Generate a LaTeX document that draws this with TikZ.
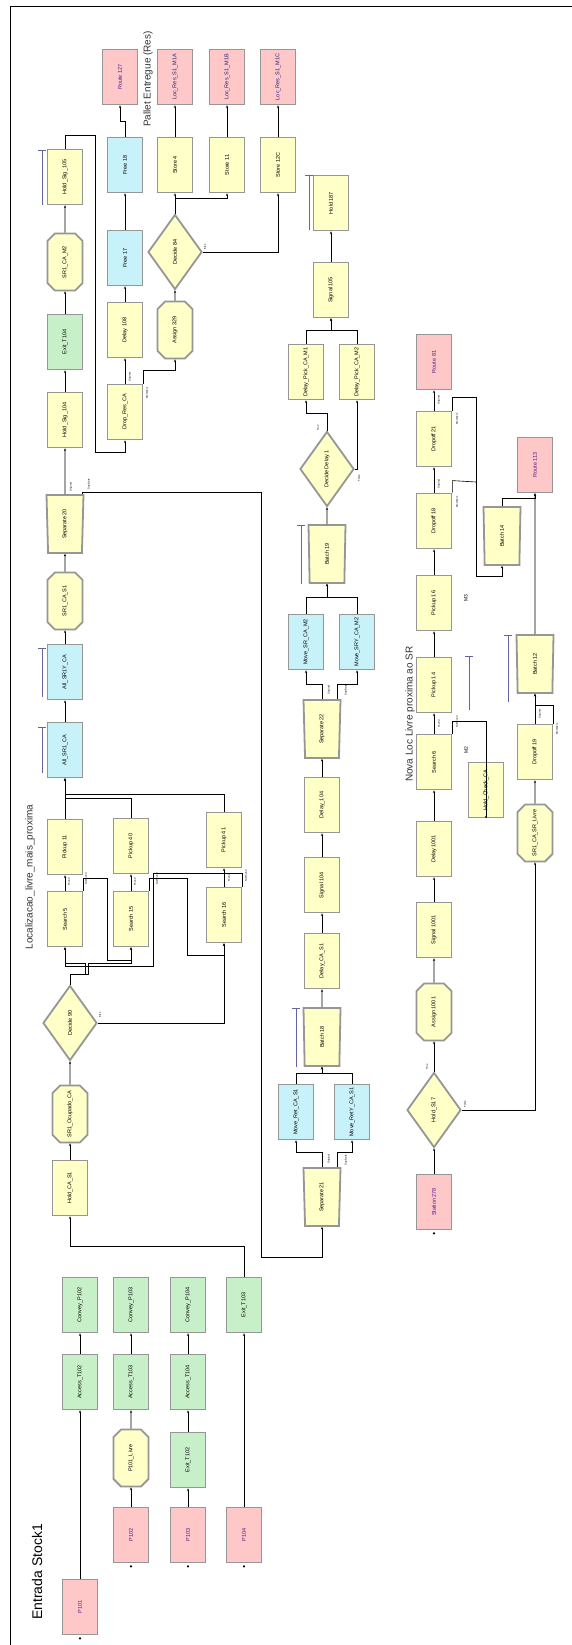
\documentclass[tikz,border=0pt]{standalone}
\usepackage{fontspec}
\setmainfont{Liberation Sans}
\usepackage{graphicx}
\usetikzlibrary{shapes.geometric,shapes.misc,arrows.meta}
\definecolor{arenayel}{RGB}{255,255,200}
\definecolor{arenapink}{RGB}{255,200,200}
\definecolor{arenacyan}{RGB}{200,242,250}
\definecolor{arenagreen}{RGB}{200,240,200}
\definecolor{arenaedge}{RGB}{150,150,150}
\definecolor{arenaplum}{RGB}{90,20,130}
\definecolor{arenanavy}{RGB}{30,30,120}
\definecolor{arenaq}{RGB}{100,100,160}
\newcommand{\lbl}[1]{\rotatebox{90}{#1}}
\tikzset{
  mod/.style={draw=arenaedge, line width=1.8pt, minimum width=35pt, minimum height=55pt, inner sep=0pt, font=\fontsize{5.5}{6.5}\selectfont},
  ybox/.style={mod, fill=arenayel},
  pbox/.style={mod, fill=arenapink, text=arenaplum},
  cbox/.style={mod, fill=arenacyan},
  gbox/.style={mod, fill=arenagreen},
  octbox/.style={ybox, chamfered rectangle, chamfered rectangle xsep=5pt, minimum height=57pt},
  trapbox/.style={ybox, trapezium, shape border rotate=180, trapezium angle=87, trapezium stretches body=true, minimum width=37pt, minimum height=58pt},
  decbox/.style={ybox, diamond, minimum width=54pt, minimum height=75pt},
  qbar/.style={draw=arenaq, line width=0.8pt},
  tiny/.style={font=\fontsize{2.6}{3}\selectfont, inner sep=0pt},
  title/.style={font=\fontsize{10}{12}\selectfont, text=black!80, rotate=90, inner sep=0pt}
}
\begin{document}
\begin{tikzpicture}[x=1pt, y=-1pt, >={Stealth[length=2.5pt,width=2.2pt]}, flow/.style={->, line width=0.6pt}]
\fill[white] (0,0) rectangle (572,1645);
\useasboundingbox (0,0) rectangle (572,1645);
\draw[line width=0.8pt] (10,1645) -- (10,6) -- (572,6);

% Pallet Entregue
\node[title] (tpallet) at (148,79) {Pallet Entregue (Res)};
\node[pbox] (route127) at (120,77) {\lbl{Route 127}};
\node[pbox, text=arenanavy] (locm1a) at (175,77) {\lbl{Loc\_Res\_S1\_M1A}};
\node[pbox, text=arenanavy] (locm1b) at (227,77) {\lbl{Loc\_Res\_S1\_M1B}};
\node[pbox, text=arenanavy] (locm1c) at (278,77) {\lbl{Loc\_Res\_S1\_M1C}};
\node[cbox] (free18) at (125,165) {\lbl{Free 18}};
\node[ybox] (store4) at (175,165) {\lbl{Store 4}};
\node[ybox] (store11) at (227,165) {\lbl{Store 11}};
\node[ybox] (store12) at (278,165) {\lbl{Store 12C}};
\node[cbox] (free17) at (125,258) {\lbl{Free 17}};
\node[decbox] (dec84) at (175,252) {\lbl{Decide 84}};
\node[ybox] (delay108) at (125,330) {\lbl{Delay 108}};
\node[octbox] (asg329) at (175,330) {\lbl{Assign 329}};
\node[ybox] (dropres) at (125,412) {\lbl{Drop\_Res\_CA}};

% left column
\node[ybox] (hs105) at (65,177) {\lbl{Hold\_Sig\_105}};
\node[octbox] (sr1m2) at (65,262) {\lbl{SR1\_CA\_M2}};
\node[gbox] (exitt104) at (65,342) {\lbl{Exit\_T104}};
\node[ybox] (hs104) at (65,420) {\lbl{Hold\_Sig\_104}};
\node[trapbox] (sep20) at (65,524) {\lbl{Separate 20}};
\node[octbox] (sr1s1) at (65,601) {\lbl{SR1\_CA\_S1}};
\node[cbox] (allsr1y) at (65,672) {\lbl{All\_SR1Y\_CA}};
\node[cbox] (allsr1) at (65,750) {\lbl{All\_SR1\_CA}};

% Localizacao
\node[title] (tloc) at (30,877) {Localizacao\_livre\_mais\_proxima};
\node[ybox] (pick11) at (65,847) {\lbl{Pickup 11}};
\node[ybox] (pick40) at (131,846) {\lbl{Pickup 40}};
\node[ybox] (pick41) at (224,840) {\lbl{Pickup 41}};
\node[ybox] (srch5) at (65,919) {\lbl{Search 5}};
\node[ybox] (srch15) at (131,919) {\lbl{Search 15}};
\node[ybox] (srch16) at (224,915) {\lbl{Search 16}};
\node[decbox] (dec90) at (70,1023) {\lbl{Decide 90}};
\node[octbox] (sr1ocup) at (70,1114) {\lbl{SR1\_Ocupado\_CA}};
\node[ybox] (holdcas1) at (70,1188) {\lbl{Hold\_CA\_S1}};

% Entrada Stock1
\node[font=\fontsize{14}{16}\selectfont, rotate=90, inner sep=0pt] (tentrada) at (37,1572) {Entrada Stock1};
\node[gbox] (convp102) at (80,1305) {\lbl{Convey\_P102}};
\node[gbox] (convp103) at (131,1305) {\lbl{Convey\_P103}};
\node[gbox] (convp104) at (188,1305) {\lbl{Convey\_P104}};
\node[gbox] (exitt103) at (244,1305) {\lbl{Exit\_T103}};
\node[gbox] (acct102) at (80,1382) {\lbl{Access\_T102}};
\node[gbox] (acct103) at (131,1382) {\lbl{Access\_T103}};
\node[gbox] (acct104) at (188,1382) {\lbl{Access\_T104}};
\node[octbox] (p101livre) at (131,1458) {\lbl{P101\_Livre}};
\node[gbox] (exitt102) at (188,1460) {\lbl{Exit\_T102}};
\node[pbox] (p102) at (131,1535) {\lbl{P102}};
\node[pbox] (p103) at (188,1535) {\lbl{P103}};
\node[pbox] (p104) at (244,1535) {\lbl{P104}};
\node[pbox] (p101) at (80,1607) {\lbl{P101}};

% middle column
\node[ybox] (hold187) at (331,203) {\lbl{Hold 187}};
\node[ybox] (sig105) at (331,290) {\lbl{Signal 105}};
\node[ybox] (dpm1) at (306,372) {\lbl{Delay\_Pick\_CA\_M1}};
\node[ybox] (dpm2) at (357,372) {\lbl{Delay\_Pick\_CA\_M2}};
\node[decbox] (dd1) at (327,469) {\lbl{Decide Delay 1}};
\node[trapbox] (batch19) at (327,554) {\lbl{Batch 19}};
\node[cbox] (movesr) at (306,642) {\lbl{Move\_SR\_CA\_M2}};
\node[cbox] (movesry) at (357,642) {\lbl{Move\_SRY\_CA\_M2}};
\node[trapbox] (sep22) at (322,729) {\lbl{Separate 22}};
\node[ybox] (delay104) at (322,805) {\lbl{Delay\_104}};
\node[ybox] (sig104) at (322,885) {\lbl{Signal 104}};
\node[ybox] (delaycas1) at (322,961) {\lbl{Delay\_CA\_S1}};
\node[trapbox] (batch18) at (322,1037) {\lbl{Batch 18}};
\node[cbox] (moveret) at (296,1112) {\lbl{Move\_Ret\_CA\_S1}};
\node[cbox] (moverety) at (352,1112) {\lbl{Move\_RetY\_CA\_S1}};
\node[trapbox] (sep21) at (322,1197) {\lbl{Separate 21}};

% Nova Loc
\node[title] (tnova) at (410,714) {Nova Loc Livre proxima ao SR};
\node[pbox] (route81) at (434,362) {\lbl{Route 81}};
\node[ybox] (drop21) at (434,439) {\lbl{Dropoff 21}};
\node[ybox] (drop18) at (434,521) {\lbl{Dropoff 18}};
\node[ybox] (pick16) at (434,603) {\lbl{Pickup 16}};
\node[ybox] (pick14) at (434,685) {\lbl{Pickup 14}};
\node[ybox] (srch6) at (434,762) {\lbl{Search 6}};
\node[ybox] (del1001) at (434,849) {\lbl{Delay 1001}};
\node[ybox] (sig1001) at (434,930) {\lbl{Signal 1001}};
\node[octbox] (asg1001) at (434,1012) {\lbl{Assign 1001}};
\node[decbox] (hs17) at (434,1110) {\lbl{Hold\_S17}};
\node[pbox] (st278) at (434,1202) {\lbl{Station 278}};
\node[pbox] (route113) at (535,465) {\lbl{Route 113}};
\node[trapbox] (batch14) at (502,536) {\lbl{Batch 14}};
\node[trapbox] (batch12) at (535,664) {\lbl{Batch 12}};
\node[ybox] (drop19) at (535,752) {\lbl{Dropoff 19}};
\node[octbox] (sr1sr) at (535,833) {\lbl{SR1\_CA\_SR\_Livre}};
\node[ybox] (hcc) at (486,790) {\lbl{Hold\_Check\_CA}};
\node[tiny, font=\fontsize{5}{6}\selectfont] (lm3) at (466,598) {\lbl{M3}};
\node[tiny, font=\fontsize{5}{6}\selectfont] (lm2) at (466,750) {\lbl{M2}};

% queue bars
\draw[qbar] (42,205) -- (42,150) ++(-4,0) -- ++(8,0);
\draw[qbar] (42,697) -- (42,648) ++(-4,0) -- ++(8,0);
\draw[qbar] (42,773) -- (42,727) ++(-4,0) -- ++(8,0);
\draw[qbar] (309,230) -- (309,175) ++(-4,0) -- ++(8,0);
\draw[qbar] (301,584) -- (301,525) ++(-4,0) -- ++(8,0);
\draw[qbar] (296,1067) -- (296,1008) ++(-4,0) -- ++(8,0);
\draw[qbar] (469,710) -- (469,656) ++(-4,0) -- ++(8,0);
\draw[qbar] (508,702) -- (508,635) ++(-4,0) -- ++(8,0);

% connectors, top block
\draw[flow] (hs105.north) -- ++(0,-13) -| (95,452) -| (dropres.south);
\draw[flow] (dropres) -- (delay108);
\draw[flow] (delay108) -- (free17);
\draw[flow] (free17) -- (free18);
\draw[flow] (free18.north) -- ++(0,-15) -| (route127.south);
\draw[flow] (dropres.north east) -- ++(0,-13) -| (asg329.south);
\draw[flow] (asg329) -- (dec84);
\draw[flow] (dec84.north) -- (store4.south);
\draw[flow] (dec84.north) -- ++(0,-15) -| (store11.south);
\draw[flow] (dec84.east) -| (store12.south);
\draw[flow] (store4) -- (locm1a);
\draw[flow] (store11) -- (locm1b);
\draw[flow] (store12) -- (locm1c);

% left column
\draw[flow] (sep20.north) -- (hs104.south);
\draw[flow] (hs104) -- (exitt104);
\draw[flow] (exitt104) -- (sr1m2);
\draw[flow] (sr1m2) -- (hs105);
\draw[flow] (sr1s1) -- (sep20);
\draw[flow] (allsr1y) -- (sr1s1);
\draw[flow] (allsr1) -- (allsr1y);
\draw[flow] (pick11) -- (allsr1);
\draw[flow] (pick40.north) -- ++(0,-19) -| (allsr1.south);
\draw[flow] (pick41.north) -- ++(0,-17) -| (allsr1.south);
\draw[flow] (srch5) -- (pick11);
\draw[flow] (srch15) -- (pick40);
\draw[flow] (srch16) -- (pick41);
\draw[flow] (srch5.north east) -- ++(0,-12) -| (107,960) -| (srch15.south);
\draw[flow] (srch15.north east) -- ++(0,-12) -| (187,955) -| (srch16.south);
\draw[flow] (srch16.north east) -- ++(0,-13) -| (153,966) -| (srch5.south);
\draw[flow] (dec90.north) -- ++(0,-10) -| (85,963) -| (srch5.south);
\draw[flow] (dec90.north) -- ++(0,-10) -| (88,963) -| (srch15.south);
\draw[flow] (dec90.east) -| (srch16.south);
\draw[flow] (sr1ocup) -- (dec90);
\draw[flow] (holdcas1) -- (sr1ocup);
\draw[flow] (exitt103.north) -- ++(0,-30) -| (holdcas1.south);
\draw[flow] (sep20.north) ++(17,0) -- ++(0,-2) -| (261,1257) -| (sep21.south);

% Entrada Stock1
\draw[flow] (p101) -- (acct102);
\draw[flow] (acct102) -- (convp102);
\draw[flow] (p102) -- (p101livre);
\draw[flow] (p101livre) -- (acct103);
\draw[flow] (acct103) -- (convp103);
\draw[flow] (p103) -- (exitt102);
\draw[flow] (exitt102) -- (acct104);
\draw[flow] (acct104) -- (convp104);
\draw[flow] (p104) -- (exitt103);
\fill (p101.south) ++(0,3) circle (1.2);
\fill (p102.south) ++(0,3) circle (1.2);
\fill (p103.south) ++(0,3) circle (1.2);
\fill (p104.south) ++(0,3) circle (1.2);
\fill (st278.south) ++(0,3) circle (1.2);

% middle column
\draw[flow] (sep21.north) -- ++(0,-15) -| (moveret.south);
\draw[flow] (sep21.north) ++(15,0) -- ++(0,-15) -| (moverety.south);
\draw[flow] (moveret.north) -- ++(0,-10) -| (batch18.south);
\draw[flow] (moverety.north) -- ++(0,-10) -| (batch18.south);
\draw[flow] (batch18) -- (delaycas1);
\draw[flow] (delaycas1) -- (sig104);
\draw[flow] (sig104) -- (delay104);
\draw[flow] (delay104) -- (sep22);
\draw[flow] (sep22.north) -- ++(0,-15) -| (movesr.south);
\draw[flow] (sep22.north) ++(15,0) -- ++(0,-15) -| (movesry.south);
\draw[flow] (movesr.north) -- ++(0,-16) -| (batch19.south);
\draw[flow] (movesry.north) -- ++(0,-16) -| (batch19.south);
\draw[flow] (batch19) -- (dd1);
\draw[flow] (dd1.north) -- ++(0,-17) -| (dpm1.south);
\draw[flow] (dd1.east) -| (dpm2.south);
\draw[flow] (dpm1.north) -- ++(0,-13) -| (sig105.south);
\draw[flow] (dpm2.north) -- ++(0,-13) -| (sig105.south);
\draw[flow] (sig105) -- (hold187);

% right column
\draw[flow] (st278) -- (hs17);
\draw[flow] (hs17) -- (asg1001);
\draw[flow] (asg1001) -- (sig1001);
\draw[flow] (sig1001) -- (del1001);
\draw[flow] (del1001) -- (srch6);
\draw[flow] (srch6) -- (pick14);
\draw[flow] (pick14) -- (pick16);
\draw[flow] (pick16) -- (drop18);
\draw[flow] (drop18) -- (drop21);
\draw[flow] (drop21) -- (route81);
\draw[flow] (drop21.north east) -- ++(0,-13) -| (476,576) -| (batch14.south);
\coordinate (mjoin) at (476,482);
\draw[line width=0.6pt] (drop18.north east) -- ++(0,-12) -- (mjoin);
\draw[flow] (batch14.north) -- ++(0,-8) -| (route113.south);
\draw[flow] (batch12) -- (route113);
\draw[flow] (drop19) -- (batch12);
\draw[flow] (drop19.north east) -- ++(0,-18) -| (batch12.south);
\draw[flow] (sr1sr) -- (drop19);
\draw[flow] (hs17.east) -| (sr1sr.south);
\draw[flow] (srch6.north east) -- ++(0,-12) -| (hcc.south);

% small exit labels
\node[tiny] (l1) at (130,377) {\lbl{Original}};
\node[tiny] (l2) at (147,393) {\lbl{Members}};
\node[tiny] (l3) at (71,487) {\lbl{Original}};
\node[tiny] (l4) at (89,484) {\lbl{Duplicate}};
\node[tiny] (l5) at (69,882) {\lbl{Found}};
\node[tiny] (l6) at (86,879) {\lbl{NotFound}};
\node[tiny] (l7) at (135,882) {\lbl{Found}};
\node[tiny] (l8) at (157,879) {\lbl{NotFound}};
\node[tiny] (l9) at (229,878) {\lbl{Found}};
\node[tiny] (l10) at (246,876) {\lbl{NotFound}};
\node[tiny] (l11) at (100,1015) {\lbl{Else}};
\node[tiny] (l12) at (205,247) {\lbl{Else}};
\node[tiny] (l13) at (318,428) {\lbl{True}};
\node[tiny] (l14) at (359,478) {\lbl{False}};
\node[tiny] (l15) at (329,690) {\lbl{Original}};
\node[tiny] (l16) at (346,690) {\lbl{Duplicate}};
\node[tiny] (l17) at (329,1159) {\lbl{Original}};
\node[tiny] (l18) at (346,1160) {\lbl{Duplicate}};
\node[tiny] (l19) at (439,400) {\lbl{Original}};
\node[tiny] (l20) at (457,419) {\lbl{Members}};
\node[tiny] (l21) at (439,484) {\lbl{Original}};
\node[tiny] (l22) at (457,502) {\lbl{Members}};
\node[tiny] (l23) at (439,724) {\lbl{Found}};
\node[tiny] (l24) at (457,722) {\lbl{NotFound}};
\node[tiny] (l25) at (540,714) {\lbl{Original}};
\node[tiny] (l26) at (557,729) {\lbl{Members}};
\node[tiny] (l27) at (427,1067) {\lbl{True}};
\node[tiny] (l28) at (465,1104) {\lbl{False}};
\end{tikzpicture}
\end{document}
